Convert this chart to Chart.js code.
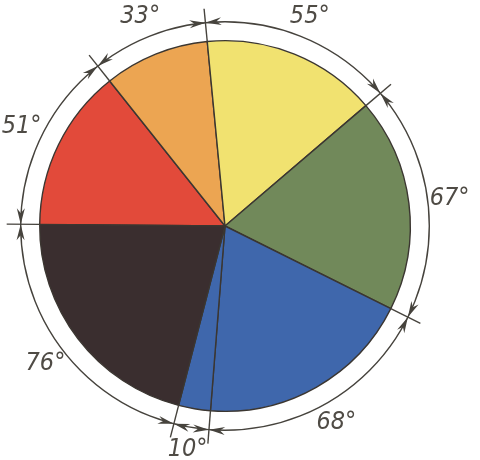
<!DOCTYPE html>
<html>
<head>
<meta charset="utf-8">
<script src="https://cdn.jsdelivr.net/npm/chart.js@4/dist/chart.umd.min.js"></script>
<style>
  html, body { margin: 0; padding: 0; background: #fff; }
  #wrap { width: 480px; height: 460px; }
</style>
</head>
<body>
<div id="wrap"><canvas id="pie" width="480" height="460"></canvas></div>
<script>
// sector angles in degrees, clockwise starting from the red one (left, horizontal edge)
const sectors = ['red', 'orange', 'yellow', 'green', 'blue', 'blue (narrow)', 'black'];
const degrees = [51, 33, 55, 67, 68, 10, 76];
const sectorColors = ['#e24a3a', '#eca552', '#f1e270', '#71895a', '#3f67ac', '#3f67ac', '#3a2e2f'];

const ink = '#46433d';

// dimension arcs, ticks, arrowheads and degree labels around the disc
const dimensionPlugin = {
    id: 'dimensions',
    afterDatasetsDraw(chart) {
        const arcs = chart.getDatasetMeta(0).data;
        if (!arcs.length) return;
        const ctx = chart.ctx;
        const { x, y, outerRadius: R } = arcs[0].getProps(['x', 'y', 'outerRadius'], true);
        const rDim = R + 19;

        ctx.save();
        ctx.strokeStyle = ink;
        ctx.fillStyle = ink;
        ctx.lineWidth = 1.4;

        ctx.beginPath();
        ctx.arc(x, y, rDim, 0, Math.PI * 2);
        ctx.stroke();

        const arrow = (ang, dir) => {
            // tip sits on the dimension arc at angle ang, body lies along the arc
            const tx = x + rDim * Math.cos(ang), ty = y + rDim * Math.sin(ang);
            const ux = -Math.sin(ang) * dir, uy = Math.cos(ang) * dir;
            const nx = Math.cos(ang), ny = Math.sin(ang);
            const len = 16, hw = 4, notch = 11;
            ctx.beginPath();
            ctx.moveTo(tx, ty);
            ctx.lineTo(tx + ux * len + nx * hw, ty + uy * len + ny * hw);
            ctx.lineTo(tx + ux * notch, ty + uy * notch);
            ctx.lineTo(tx + ux * len - nx * hw, ty + uy * len - ny * hw);
            ctx.closePath();
            ctx.fill();
        };

        arcs.forEach(el => {
            const a = el.getProps(['startAngle'], true).startAngle;
            ctx.beginPath();
            ctx.moveTo(x + R * Math.cos(a), y + R * Math.sin(a));
            ctx.lineTo(x + (R + 33) * Math.cos(a), y + (R + 33) * Math.sin(a));
            ctx.stroke();
            arrow(a, 1);
            arrow(a, -1);
        });

        ctx.fillStyle = '#4f4b45';
        ctx.font = 'italic 25px "DejaVu Sans Condensed", "DejaVu Sans", sans-serif';
        ctx.textAlign = 'center';
        ctx.textBaseline = 'middle';
        arcs.forEach((el, i) => {
            const p = el.getProps(['startAngle', 'endAngle'], true);
            const mid = (p.startAngle + p.endAngle) / 2;
            const rl = R + 41;
            ctx.fillText(degrees[i] + '°', x + rl * Math.cos(mid), y + rl * Math.sin(mid));
        });
        ctx.restore();
    }
};

new Chart(document.getElementById('pie'), {
    type: 'pie',
    data: {
        labels: sectors,
        datasets: [{
            data: degrees,
            backgroundColor: sectorColors,
            borderColor: '#3b3631',
            borderWidth: 1.4
        }]
    },
    options: {
        responsive: false,
        animation: false,
        rotation: 270.5,
        layout: { padding: { left: 39, right: 69, top: 40, bottom: 48 } },
        plugins: {
            legend: { display: false },
            tooltip: { enabled: false }
        }
    },
    plugins: [dimensionPlugin]
});
</script>
</body>
</html>
